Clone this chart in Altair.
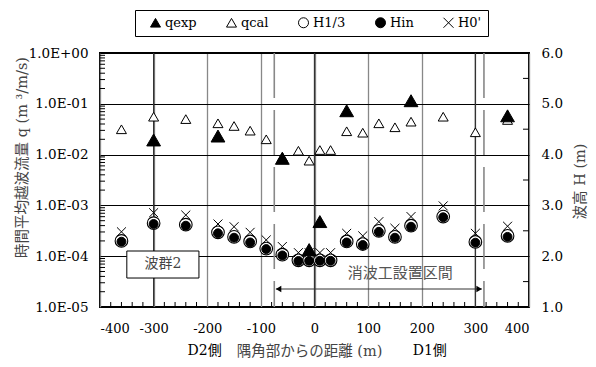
import altair as alt
import pandas as pd

# ---------------- data ----------------
series_names = ["qexp", "qcal", "H1/3", "Hin", "H0'"]

x_pos = [-360, -300, -240, -180, -150, -120, -90, -60, -30, -10, 10, 30,
         60, 90, 120, 150, 180, 240, 300, 360]
qcal = [0.0315, 0.0557, 0.050, 0.0413, 0.0366, 0.0296, 0.020, 0.009, 0.0119,
        0.0076, 0.0123, 0.0123, 0.0288, 0.027, 0.0413, 0.0345, 0.0445, 0.0557,
        0.0275, 0.048]
qexp_x = [-300, -180, -60, -10, 10, 60, 180, 360]
qexp = [0.0194, 0.0232, 0.00845, 1.35e-4, 4.8e-4, 0.073, 0.115, 0.058]
h13 = [2.30, 2.65, 2.62, 2.47, 2.38, 2.29, 2.15, 2.03, 1.92, 1.92, 1.92, 1.92,
       2.29, 2.24, 2.50, 2.38, 2.60, 2.78, 2.28, 2.40]
hin = [2.285, 2.634, 2.60, 2.45, 2.364, 2.27, 2.14, 2.015, 1.905, 1.91, 1.91,
       1.91, 2.27, 2.22, 2.48, 2.364, 2.58, 2.766, 2.266, 2.38]
h0 = [2.48, 2.856, 2.81, 2.634, 2.58, 2.47, 2.32, 2.19, 2.07, 2.07, 2.07, 2.07,
      2.45, 2.40, 2.68, 2.55, 2.78, 2.99, 2.45, 2.59]

x_ticks = [-400, -300, -200, -100, 0, 100, 200, 300, 400]
x_dark = [-300, 0, 300]
q_ticks = [1e-5, 1e-4, 1e-3, 1e-2, 1e-1, 1.0]
h_ticks = [1, 2, 3, 4, 5, 6]
x_minor = [v for v in range(-380, 400, 20) if v % 100 != 0]
q_minor = [k * 10.0 ** e for e in range(-5, 0) for k in range(2, 10)]
h_minor = [1.5, 2.5, 3.5, 4.5, 5.5]

zone_x = [-75, 316]          # 消波工設置区間 boundaries
arrow_x = [-72, 312]
arrow_y = 2.26e-5
zone_label = "消波工設置区間"
group_label = "波群2"
side_labels = ["D2側", "D1側"]
side_x = [-205, 215]

W, H = 429, 254
SERIF = "DejaVu Serif, Noto Sans CJK JP"
JP = "Noto Sans CJK JP"

shape_range = ["triangle-up", "triangle-up", "circle", "circle",
               "M-1,-1L1,1M-1,1L1,-1"]
fill_range = ["black", "white", "white", "black", "transparent"]

legend = alt.Legend(title=None, orient="none", legendX=35, legendY=-43,
                    direction="horizontal", columns=5, labelFont=SERIF,
                    labelFontSize=13, labelColor="black", symbolSize=100,
                    symbolStrokeWidth=1, strokeColor="black", fillColor="white",
                    padding=6, columnPadding=20, labelOffset=3, symbolOffset=8)
shape_enc = alt.Shape("series:N", scale=alt.Scale(domain=series_names, range=shape_range), legend=legend)
fill_enc = alt.Fill("series:N", scale=alt.Scale(domain=series_names, range=fill_range), legend=legend)

xs = alt.Scale(domain=[-400, 400], nice=False, zero=False)
qs = alt.Scale(type="log", domain=[1e-5, 1], nice=False)
hs = alt.Scale(domain=[1, 6], nice=False, zero=False)

x_axis = alt.Axis(values=x_ticks, labelExpr="'' + datum.value", grid=True,
                  gridColor="#888", gridWidth=1.3, ticks=False, domain=False,
                  labelFont=SERIF, labelFontSize=13, labelColor="black", labelPadding=15,
                  title="隅角部からの距離  (m)", titleFont=SERIF, titleFontSize=14.5,
                  titleFontWeight="normal", titleColor="#444", titleX=209, titleY=44,
                  titleBaseline="middle")
q_axis = alt.Axis(orient="left", values=q_ticks,
                  labelExpr="'1.0E' + (datum.value >= 1 ? '+00' : '-0' + round(-log(datum.value)/LN10))",
                  grid=True, gridColor="black", gridWidth=1, ticks=False, domain=False,
                  labelFont=SERIF, labelFontSize=13.5, labelColor="black", labelPadding=12,
                  title="時間平均越波流量   q (m ³/m/s)", titleFont=SERIF, titleFontSize=14.5,
                  titleFontWeight="normal", titleColor="#444", titleAngle=270,
                  titleX=-78, titleY=104, titleBaseline="middle")
h_axis = alt.Axis(orient="right", values=h_ticks, format=".1f", grid=False, ticks=False,
                  domain=False, labelFont=SERIF, labelFontSize=13.5, labelColor="black",
                  labelPadding=12, title="波高  H (m)", titleFont=SERIF, titleFontSize=14.5,
                  titleFontWeight="normal", titleColor="#444", titleAngle=270,
                  titleX=51, titleY=128, titleBaseline="middle")

df_qcal = pd.DataFrame({"x": x_pos, "v": qcal, "series": "qcal"})
df_qexp = pd.DataFrame({"x": qexp_x, "v": qexp, "series": "qexp"})
df_h13 = pd.DataFrame({"x": x_pos, "v": h13, "series": "H1/3"})
df_hin = pd.DataFrame({"x": x_pos, "v": hin, "series": "Hin"})
df_h0 = pd.DataFrame({"x": x_pos, "v": h0, "series": "H0'"})

X0 = alt.X("x:Q", scale=xs, axis=x_axis)


def pts(df, size, sw, yscale, yaxis=None):
    if yaxis is None:
        y = alt.Y("v:Q", scale=yscale, axis=None)
    else:
        y = alt.Y("v:Q", scale=yscale, axis=yaxis)
    return alt.Chart(df).mark_point(size=size, stroke="black", strokeWidth=sw, opacity=1).encode(
        x=X0, y=y, shape=shape_enc, fill=fill_enc)


dark_grid = alt.Chart(pd.DataFrame({"x": x_dark})).mark_rule(color="#333", strokeWidth=1.3).encode(
    x=X0, y=alt.value(0), y2=alt.value(H))
h_minor_ticks = alt.Chart(pd.DataFrame({"v": h_minor})).mark_rule(color="black", strokeWidth=1).encode(
    y=alt.Y("v:Q", scale=hs, axis=None), x=alt.value(W), x2=alt.value(W - 6))
q_minor_ticks = alt.Chart(pd.DataFrame({"v": q_minor})).mark_rule(color="black", strokeWidth=1).encode(
    y=alt.Y("v:Q", scale=qs, axis=None), x=alt.value(0), x2=alt.value(5))
x_minor_ticks = alt.Chart(pd.DataFrame({"x": x_minor})).mark_rule(color="black", strokeWidth=1).encode(
    x=X0, y=alt.value(H), y2=alt.value(H - 5))
zone_lines = alt.Chart(pd.DataFrame({"x": zone_x})).mark_rule(
    color="#888", strokeWidth=1.6, strokeDash=[45, 12]).encode(
    x=X0, y=alt.value(0), y2=alt.value(H))
arrow_line = alt.Chart(pd.DataFrame({"x": [arrow_x[0]], "x2": [arrow_x[1]], "v": [arrow_y]})).mark_rule(
    color="#333", strokeWidth=1).encode(
    x=X0, x2="x2:Q", y=alt.Y("v:Q", scale=qs, axis=None))
arrow_left = alt.Chart(pd.DataFrame({"x": [arrow_x[0] + 5], "v": [arrow_y]})).mark_point(
    filled=True, color="black", size=40, opacity=1, shape="triangle-left").encode(
    x=X0, y=alt.Y("v:Q", scale=qs, axis=None))
arrow_right = alt.Chart(pd.DataFrame({"x": [arrow_x[1] - 5], "v": [arrow_y]})).mark_point(
    filled=True, color="black", size=40, opacity=1, shape="triangle-right").encode(
    x=X0, y=alt.Y("v:Q", scale=qs, axis=None))
zone_text = alt.Chart(pd.DataFrame({"x": [160], "v": [4.67e-5], "t": [zone_label]})).mark_text(
    font=JP, fontSize=15, color="#555").encode(
    x=X0, y=alt.Y("v:Q", scale=qs, axis=None), text="t:N")
box = alt.Chart(pd.DataFrame({"x": [-350], "x2": [-215.5], "v": [1.265e-4], "v2": [3.72e-5]})).mark_rect(
    fill="white", stroke="black", strokeWidth=1).encode(
    x=X0, x2="x2:Q", y=alt.Y("v:Q", scale=qs, axis=None), y2="v2:Q")
box_text = alt.Chart(pd.DataFrame({"x": [-282.5], "v": [6.87e-5], "t": [group_label]})).mark_text(
    font=SERIF, fontSize=14, color="#444").encode(
    x=X0, y=alt.Y("v:Q", scale=qs, axis=None), text="t:N")
side_text = alt.Chart(pd.DataFrame({"x": side_x, "t": side_labels})).mark_text(
    font=SERIF, fontSize=14, color="black", baseline="middle").encode(
    x=X0, y=alt.value(H + 44), text="t:N")

h_layer_13 = pts(df_h13, 160, 1.1, hs, h_axis)
h_layer_in = pts(df_hin, 80, 1, hs)
h_layer_0 = pts(df_h0, 80, 1, hs)
q_layer_cal = pts(df_qcal, 100, 1, qs, q_axis)
q_layer_exp = pts(df_qexp, 190, 1, qs)

chart = alt.layer(
    dark_grid, h_minor_ticks, q_minor_ticks, x_minor_ticks, zone_lines, arrow_line,
    arrow_left, arrow_right, zone_text, box, box_text, side_text,
    h_layer_13, h_layer_in, h_layer_0, q_layer_cal, q_layer_exp
).resolve_scale(y="independent").properties(
    width=W, height=H, autosize=alt.AutoSizeParams(type="none"),
    padding={"left": 92, "top": 45, "right": 59, "bottom": 52},
    background="white"
).configure_view(stroke="black", strokeWidth=2)

chart.save("out.html", embed_options={"renderer": "svg", "actions": False})
